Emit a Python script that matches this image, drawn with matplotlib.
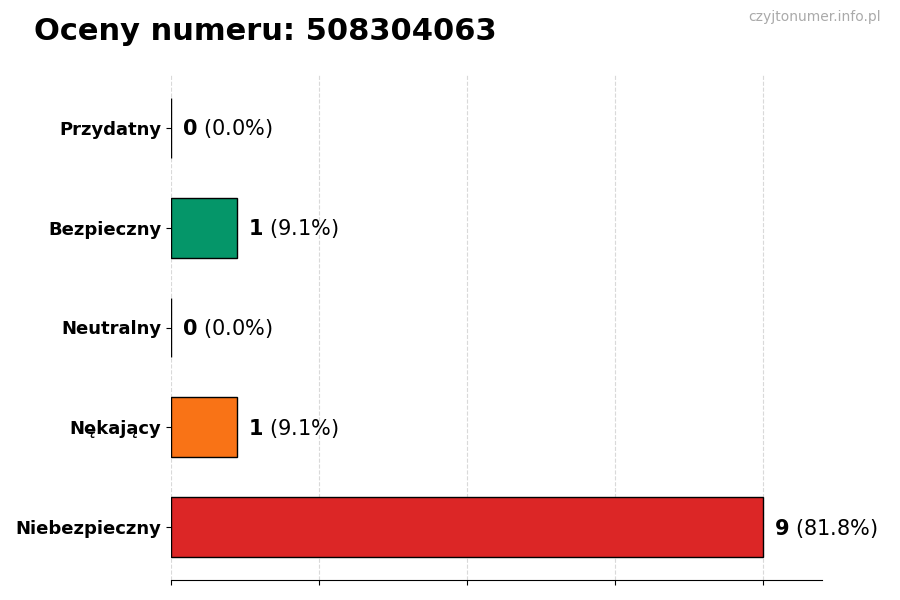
import numpy as np
import matplotlib
matplotlib.use('Agg')
import matplotlib.pyplot as plt

categories = ['Przydatny', 'Bezpieczny', 'Neutralny', 'Nękający', 'Niebezpieczny']
counts = [0, 1, 0, 1, 9]
colors = ['#9ca3af', '#059669', '#6b7280', '#f97316', '#dc2626']
number = '508304063'

total = sum(counts)
vmax = max(counts)

fig = plt.figure(figsize=(9, 6), dpi=100)
ax = fig.add_axes([171 / 900, 20 / 600, 651 / 900, 505 / 600])

y = np.arange(len(categories))[::-1]
ax.barh(y, counts, height=0.6, color=colors, edgecolor='black', linewidth=1)

off = vmax * 0.019
for yi, c in zip(y, counts):
    pct = c / total * 100
    ax.text(c + off, yi - 0.01, r'$\mathbf{%d}$ (%.1f%%)' % (c, pct), va='center', ha='left', fontsize=15)

ax.set_yticks(y)
ax.set_yticklabels(categories, fontsize=13, fontweight='bold')
ax.set_xlim(0, vmax * 1.1)
ax.set_xticks(np.linspace(0, vmax, 5))
ax.set_xticklabels([])
ax.grid(axis='x', linestyle='--', color='#d9d9d9', linewidth=0.8)
ax.set_axisbelow(True)
for s in ['top', 'right', 'left']:
    ax.spines[s].set_visible(False)

fig.text(34 / 900, 1 - 31 / 600, 'Oceny numeru: %s' % number, fontsize=22, fontweight='bold', va='center', ha='left')
fig.text(881 / 900, 1 - 17 / 600, 'czyjtonumer.info.pl', fontsize=10, color='#aaaaaa', va='center', ha='right')

fig.savefig('out.png', dpi=100)
